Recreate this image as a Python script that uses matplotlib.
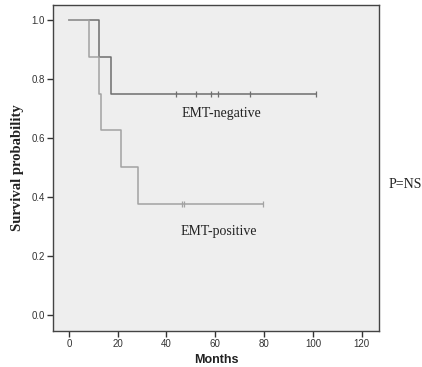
import matplotlib.pyplot as plt

# Kaplan-Meier step data (months, survival)
neg_t = [0, 12.3, 17.2, 101.2]
neg_s = [1.0, 0.875, 0.75, 0.75]
neg_cens_t = [44, 52.3, 58.2, 61.2, 74.2, 101.2]
neg_cens_s = [0.75] * len(neg_cens_t)

pos_t = [0, 8.2, 12.5, 13.1, 21.2, 28.2, 79.4]
pos_s = [1.0, 0.875, 0.75, 0.625, 0.5, 0.375, 0.375]
pos_cens_t = [46.2, 47.2, 79.4]
pos_cens_s = [0.375] * len(pos_cens_t)

xticks = [0, 20, 40, 60, 80, 100, 120]
yticks = [0.0, 0.2, 0.4, 0.6, 0.8, 1.0]

fig = plt.figure(figsize=(4.22, 3.67), dpi=100)
ax = fig.add_axes([0.1256, 0.098, 0.772, 0.888])
ax.set_facecolor('#eeeeee')

ax.step(neg_t, neg_s, where='post', color='#6e6e6e', lw=1.1)
ax.plot(neg_cens_t, neg_cens_s, ls='none', marker='|', ms=4, mew=0.9, color='#6e6e6e')
ax.step(pos_t, pos_s, where='post', color='#a2a2a2', lw=1.1)
ax.plot(pos_cens_t, pos_cens_s, ls='none', marker='|', ms=4, mew=0.9, color='#a2a2a2')

ax.set_xlim(-6.5, 127)
ax.set_ylim(-0.055, 1.05)
ax.set_xticks(xticks)
ax.set_yticks(yticks)
ax.set_yticklabels([f'{v:.1f}' for v in yticks])
ax.tick_params(direction='out', length=4, width=1, color='#333333',
               labelsize=7, labelcolor='#333333', pad=2)
for lab in ax.get_xticklabels() + ax.get_yticklabels():
    lab.set_family('Liberation Sans')
for sp in ax.spines.values():
    sp.set_color('#444444')
    sp.set_linewidth(1)

ax.text(62.5, 0.684, 'EMT-negative', family='Liberation Serif', fontsize=10,
        ha='center', va='center', color='#222222')
ax.text(61.5, 0.282, 'EMT-positive', family='Liberation Serif', fontsize=10,
        ha='center', va='center', color='#222222')
fig.text(0.92, 0.498, 'P=NS', family='Liberation Serif', fontsize=10,
         ha='left', va='center', color='#222222')

ax.set_xlabel('Months', family='Liberation Sans', fontweight='bold', fontsize=9,
              color='#222222', labelpad=3)
ax.set_ylabel('Survival probability', family='Liberation Serif', fontweight='bold',
              fontsize=10.5, color='#222222', labelpad=5)

fig.savefig('out.png', dpi=100, facecolor='white')
